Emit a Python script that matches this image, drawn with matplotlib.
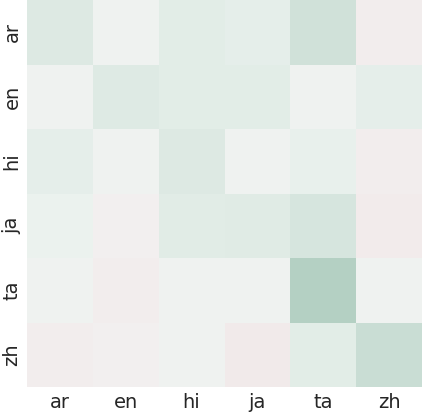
import numpy as np
import matplotlib
matplotlib.use("Agg")
import matplotlib.pyplot as plt
import seaborn as sns

langs = ["ar", "en", "hi", "ja", "ta", "zh"]

row_ar = [0.09, 0.00, 0.06, 0.045, 0.16, -0.025]
row_en = [0.00, 0.08, 0.055, 0.055, 0.00, 0.04]
row_hi = [0.04, 0.00, 0.09, 0.00, 0.03, -0.025]
row_ja = [0.015, -0.015, 0.07, 0.075, 0.13, -0.035]
row_ta = [0.00, -0.025, 0.005, 0.00, 0.32, 0.00]
row_zh = [-0.025, -0.01, 0.00, -0.045, 0.055, 0.20]

data = np.array([row_ar, row_en, row_hi, row_ja, row_ta, row_zh])

sns.set_theme(style="white")
fig = plt.figure(figsize=(4.23, 4.17), dpi=100)
ax = fig.add_axes([27 / 423, 1 - 387 / 417, 395 / 423, 387 / 417])

cmap = sns.diverging_palette(10, 150, as_cmap=True)
sns.heatmap(data, ax=ax, cmap=cmap, vmin=-1, vmax=1, cbar=False,
            xticklabels=langs, yticklabels=langs)
ax.tick_params(axis="both", labelsize=14, length=0, pad=4)
plt.setp(ax.get_yticklabels(), rotation=90, va="center")

fig.savefig("out.png", dpi=100)
